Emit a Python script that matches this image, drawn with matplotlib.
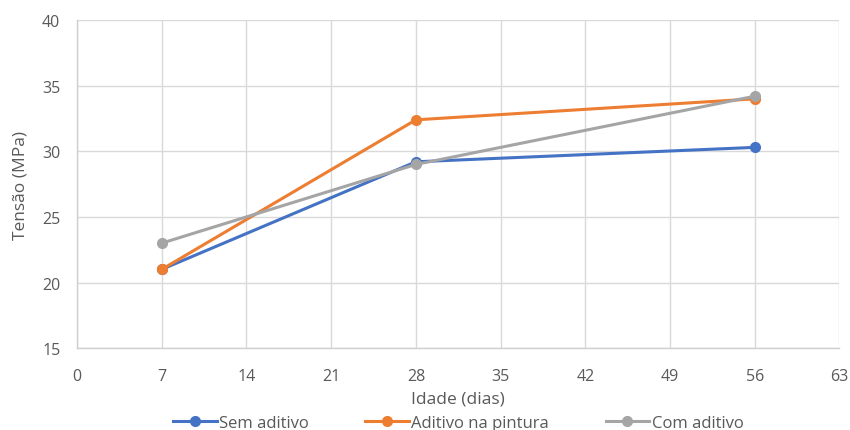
import matplotlib.pyplot as plt

# idade dos corpos de prova (dias) e tensão média (MPa)
idade = [7, 28, 56]
sem_aditivo = [21.0, 29.2, 30.3]
aditivo_pintura = [21.0, 32.4, 34.0]
com_aditivo = [23.0, 29.0, 34.2]

x_ticks = [0, 7, 14, 21, 28, 35, 42, 49, 56, 63]
y_ticks = [15, 20, 25, 30, 35, 40]

plt.rcParams['font.family'] = ['Open Sans', 'DejaVu Sans']

fig = plt.figure(figsize=(8.5, 4.31), dpi=100)
ax = fig.add_axes([0.0906, 0.190, 0.897, 0.761])

series = [
    (sem_aditivo, 'Sem aditivo', '#4472C4'),
    (aditivo_pintura, 'Aditivo na pintura', '#ED7D31'),
    (com_aditivo, 'Com aditivo', '#A5A5A5'),
]
for vals, label, color in series:
    ax.plot(idade, vals, color=color, linewidth=2.2, marker='o',
            markersize=7, label=label, zorder=3)

ax.set_xlim(0, 63)
ax.set_ylim(15, 40)
ax.set_xticks(x_ticks)
ax.set_yticks(y_ticks)

ax.grid(True, color='#d9d9d9', linewidth=1)
ax.set_axisbelow(True)
for side in ['top', 'right']:
    ax.spines[side].set_visible(False)
for side in ['left', 'bottom']:
    ax.spines[side].set_color('#cfcfcf')
    ax.spines[side].set_linewidth(1)

ax.tick_params(axis='x', length=0, labelsize=11.5, labelcolor='#595959', pad=14)
ax.tick_params(axis='y', length=0, labelsize=11.5, labelcolor='#595959', pad=12)
ax.set_xlabel('Idade (dias)', fontsize=12.5, color='#595959', labelpad=5)
ax.set_ylabel('Tensão (MPa)', fontsize=12.5, color='#595959', labelpad=10)

ax.legend(loc='center', bbox_to_anchor=(0.5, -0.228), ncol=3,
          frameon=False, fontsize=12, labelcolor='#595959',
          handlelength=2.6, handletextpad=0.15, columnspacing=3.4,
          borderaxespad=0, borderpad=0)

fig.savefig('out.png', dpi=100)
